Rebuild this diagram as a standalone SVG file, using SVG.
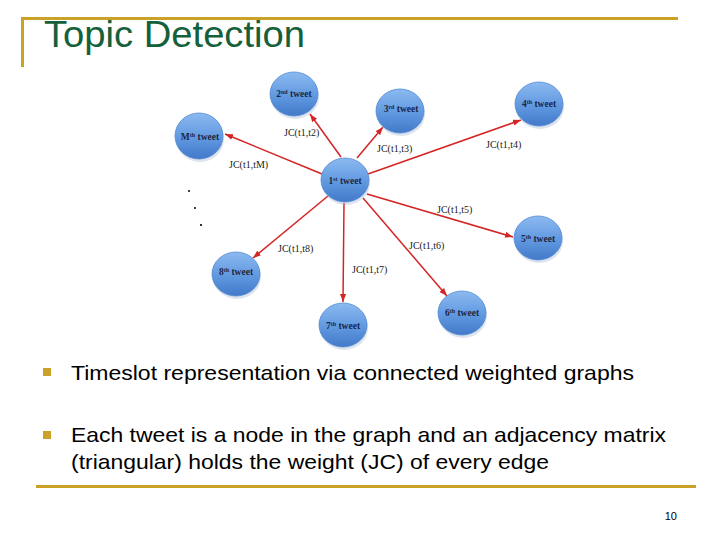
<svg xmlns="http://www.w3.org/2000/svg" width="720" height="540" viewBox="0 0 720 540">
<defs>
<linearGradient id="ng" x1="0" y1="0" x2="0" y2="1">
<stop offset="0" stop-color="#8cbaf0"/>
<stop offset="0.55" stop-color="#6098e0"/>
<stop offset="1" stop-color="#4279c9"/>
</linearGradient>
<marker id="ah" viewBox="0 0 8 6" refX="8" refY="3" markerWidth="8" markerHeight="6" markerUnits="userSpaceOnUse" orient="auto">
<path d="M0,0 L8,3 L0,6 z" fill="#d42424"/>
</marker>
<style>
.node ellipse.c{fill:url(#ng);stroke:#5289d3;stroke-width:0.8}
.node ellipse.s{fill:#9fb3cf;opacity:0.35}
.nl{font-family:"Liberation Serif","DejaVu Serif",serif;font-size:9.5px;font-weight:bold;fill:#1b2746;text-anchor:middle}
.sup{font-size:6px}
.el{font-family:"Liberation Serif","DejaVu Serif",serif;font-size:10px;fill:#1a1a1a}
.edge{stroke:#d42424;stroke-width:1.5;fill:none;marker-end:url(#ah)}
.body{font-family:"Liberation Sans",Arial,sans-serif;font-size:21px;fill:#000}
.gold{fill:#c9a227}
</style>
</defs>
<rect width="720" height="540" fill="#ffffff"/>
<rect class="gold" x="21" y="17" width="657" height="3"/>
<rect class="gold" x="21" y="17" width="3" height="50"/>
<text x="44" y="47" font-family="'Liberation Sans',Arial,sans-serif" font-size="37" fill="#14603a" textLength="261" lengthAdjust="spacingAndGlyphs">Topic Detection</text>

<g id="connectors">
<line class="edge" x1="341" y1="157" x2="310" y2="114"/>
<line class="edge" x1="357" y1="158" x2="383" y2="127"/>
<line class="edge" x1="368" y1="174" x2="521" y2="120"/>
<line class="edge" x1="322" y1="174" x2="225" y2="134"/>
<line class="edge" x1="367" y1="194" x2="513" y2="237"/>
<line class="edge" x1="363" y1="198" x2="447" y2="296"/>
<line class="edge" x1="344" y1="203" x2="343" y2="302"/>
<line class="edge" x1="328" y1="196" x2="253" y2="258"/>
<text class="el" x="284" y="136">JC(t1,t2)</text>
<text class="el" x="377" y="152">JC(t1,t3)</text>
<text class="el" x="486" y="148">JC(t1,t4)</text>
<text class="el" x="229" y="168">JC(t1,tM)</text>
<text class="el" x="437" y="213">JC(t1,t5)</text>
<text class="el" x="409" y="249">JC(t1,t6)</text>
<text class="el" x="352" y="273">JC(t1,t7)</text>
<text class="el" x="278" y="252">JC(t1,t8)</text>
</g>

<g id="n1" class="node"><ellipse class="s" cx="346" cy="183" rx="24" ry="22"/><ellipse class="c" cx="345" cy="180" rx="24" ry="22"/><text class="nl" x="345" y="184">1<tspan class="sup" dy="-3">st</tspan><tspan dy="3"> tweet</tspan></text></g>
<g id="n2" class="node"><ellipse class="s" cx="295" cy="97" rx="24" ry="22"/><ellipse class="c" cx="294" cy="94" rx="24" ry="22"/><text class="nl" x="294" y="97">2<tspan class="sup" dy="-3">nd</tspan><tspan dy="3"> tweet</tspan></text></g>
<g id="n3" class="node"><ellipse class="s" cx="401" cy="114" rx="24" ry="22"/><ellipse class="c" cx="400" cy="111" rx="24" ry="22"/><text class="nl" x="401" y="112">3<tspan class="sup" dy="-3">rd</tspan><tspan dy="3"> tweet</tspan></text></g>
<g id="n4" class="node"><ellipse class="s" cx="540" cy="107" rx="24" ry="22"/><ellipse class="c" cx="539" cy="104" rx="24" ry="22"/><text class="nl" x="539" y="107">4<tspan class="sup" dy="-3">th</tspan><tspan dy="3"> tweet</tspan></text></g>
<g id="nM" class="node"><ellipse class="s" cx="200" cy="139" rx="24" ry="23"/><ellipse class="c" cx="199" cy="136" rx="24" ry="23"/><text class="nl" x="200" y="140">M<tspan class="sup" dy="-3">th</tspan><tspan dy="3"> tweet</tspan></text></g>
<g id="n5" class="node"><ellipse class="s" cx="539" cy="241" rx="24" ry="22"/><ellipse class="c" cx="538" cy="238" rx="24" ry="22"/><text class="nl" x="538" y="242">5<tspan class="sup" dy="-3">th</tspan><tspan dy="3"> tweet</tspan></text></g>
<g id="n6" class="node"><ellipse class="s" cx="463" cy="316" rx="24" ry="22"/><ellipse class="c" cx="462" cy="313" rx="24" ry="22"/><text class="nl" x="462" y="316">6<tspan class="sup" dy="-3">th</tspan><tspan dy="3"> tweet</tspan></text></g>
<g id="n7" class="node"><ellipse class="s" cx="344" cy="328" rx="24" ry="22"/><ellipse class="c" cx="343" cy="325" rx="24" ry="22"/><text class="nl" x="343" y="329">7<tspan class="sup" dy="-3">th</tspan><tspan dy="3"> tweet</tspan></text></g>
<g id="n8" class="node"><ellipse class="s" cx="237" cy="277" rx="24" ry="22"/><ellipse class="c" cx="236" cy="274" rx="24" ry="22"/><text class="nl" x="236" y="275">8<tspan class="sup" dy="-3">th</tspan><tspan dy="3"> tweet</tspan></text></g>

<g id="dots" fill="#000">
<circle cx="189" cy="191" r="1"/>
<circle cx="195" cy="208" r="1"/>
<circle cx="201" cy="225" r="1.1"/>
</g>

<g id="bullets">
<rect class="gold" x="43" y="368" width="8" height="8"/>
<text class="body" x="71" y="380" textLength="563" lengthAdjust="spacingAndGlyphs">Timeslot representation via connected weighted graphs</text>
<rect class="gold" x="43" y="431" width="8" height="8"/>
<text class="body" x="71" y="442" textLength="595" lengthAdjust="spacingAndGlyphs">Each tweet is a node in the graph and an adjacency matrix</text>
<text class="body" x="71" y="469" textLength="478" lengthAdjust="spacingAndGlyphs">(triangular) holds the weight (JC) of every edge</text>
</g>
<rect class="gold" x="36" y="485" width="660" height="3"/>
<text x="677" y="520" font-family="'Liberation Sans',Arial,sans-serif" font-size="11" fill="#000" text-anchor="end">10</text>
</svg>
